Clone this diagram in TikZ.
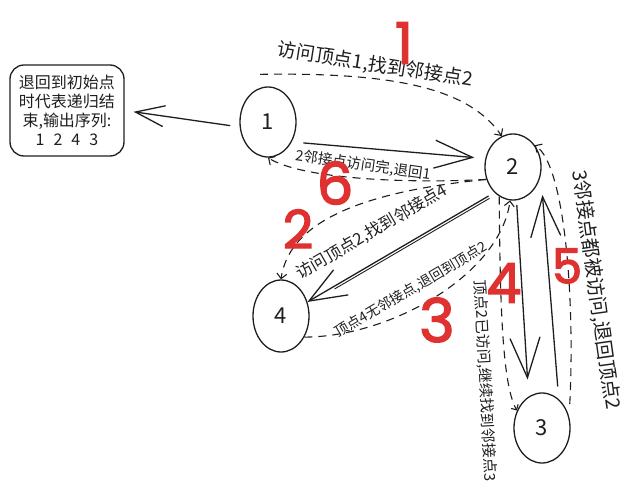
\documentclass[tikz,border=0pt]{standalone}
\usepackage{fontspec}
\newfontfamily\cjk{Noto Sans CJK SC}
\newfontfamily\numfont{Poppins}[FakeBold=2.5]
\usetikzlibrary{arrows.meta,shapes.geometric}
\definecolor{ink}{HTML}{1E1E1E}
\definecolor{redink}{HTML}{E03131}
\begin{document}
\begin{tikzpicture}[x=1pt,y=-1pt,
  vertex/.style={ellipse, draw=ink, line width=1.3pt, minimum width=56pt, minimum height=70pt, inner sep=0pt, text=ink, font=\cjk\fontsize{22}{22}\selectfont},
  lbl/.style={text=ink, inner sep=0pt},
  bignum/.style={text=redink, inner sep=0pt},
  solidarr/.style={draw=ink, line width=1.3pt, line cap=round, -{Straight Barb[length=38pt,width=28pt,line width=1.3pt]}},
  dasharr/.style={draw=ink, line width=1.1pt, dash pattern=on 8pt off 6pt, -{Straight Barb[length=5pt,width=10pt,line width=1.1pt]}}
]
\useasboundingbox (0,0) rectangle (635,495);

% vertices
\node[vertex] (n1) at (268,122) {1};
\node[vertex, minimum height=66pt] (n2) at (513,167) {2};
\node[vertex, minimum height=72pt] (n4) at (281,316) {4};
\node[vertex] (n3) at (542,428) {3};

% result box
\node[draw=ink, line width=1.3pt, rounded corners=14pt, minimum width=114pt, minimum height=91pt, align=center, inner sep=0pt, text=ink, font=\cjk\fontsize{16}{19}\selectfont] (box) at (67,110.5)
  {退回到初始点\\时代表递归结\\束,输出序列:\\1\hspace{9pt}2\hspace{9pt}4\hspace{9pt}3};

\draw[solidarr, -{Straight Barb[length=29pt,width=21pt,line width=1.3pt]}, shorten <=10pt, shorten >=9pt] (n1.190) -- (box.east);

% step 1
\draw[dasharr] ([shift={(-8,-12)}]n1.north) .. controls (400,72) and (470,90) .. (n2.110);
\node[lbl, rotate=-9, font=\cjk\fontsize{19}{19}\selectfont] (t1) at (375,65) {访问顶点1,找到邻接点2};
\node[bignum, font=\numfont\fontsize{57}{57}\selectfont] (r1) at (404,43) {1};

% 1 -> 2 solid
\draw[solidarr, shorten <=12pt, shorten >=11pt] (n1.320) -- (n2.163);

% step 6: back to 1
\draw[dasharr] (n2.205) .. controls (400,184) and (300,178) .. (n1.south);
\node[lbl, rotate=-8, font=\cjk\fontsize{14.5}{14.5}\selectfont] (t2) at (363,165) {2邻接点访问完,退回1};
\node[bignum, font=\numfont\fontsize{58}{58}\selectfont] (r6) at (335,183) {6};

% step 2: 2 -> 4
\draw[dasharr] (n2.205) .. controls (380,190) and (290,215) .. (n4.north);
\node[lbl, rotate=30, font=\cjk\fontsize{16.5}{16.5}\selectfont] (t3) at (372,232) {访问顶点2,找到邻接点4};
\node[bignum, font=\numfont\fontsize{53}{53}\selectfont] (r2) at (298,229) {2};

\draw[solidarr, -{Straight Barb[length=37pt,width=29pt,line width=1.3pt]}, shorten <=7pt] (n2.234) -- (n4.28);
\draw[draw=ink, line width=0.9pt, shorten <=7pt, shorten >=30pt, transform canvas={shift={(1.2pt,-2.2pt)}}] (n2.234) -- (n4.28);

% step 3: 4 -> 2
\draw[dasharr] (n4.318) .. controls (390,337) and (500,275) .. (n2.265);
\node[lbl, rotate=30.5, font=\cjk\fontsize{14}{14}\selectfont] (t4) at (411,290) {顶点4无邻接点,退回到顶点2};
\node[bignum, font=\numfont\fontsize{60}{60}\selectfont] (r3) at (437,320) {3};

% step 4: 2 -> 3
\draw[dasharr, -{Straight Barb[length=4pt,width=8pt,line width=1.1pt]}] (n2.245) .. controls (500,300) and (502,385) .. (n3.145);
\node[lbl, rotate=-87, font=\cjk\fontsize{15}{15}\selectfont] (t5) at (485,381) {顶点2已访问,继续找到邻接点3};
\node[bignum, font=\numfont\fontsize{55}{55}\selectfont] (r4) at (504,283) {4};

\draw[solidarr, -{Straight Barb[length=40pt,width=30pt,line width=1.3pt]}, shorten <=5pt, shorten >=17pt] (n2.276) -- (n3.113);
\draw[solidarr, -{Straight Barb[length=40pt,width=30pt,line width=1.3pt]}, shorten <=13pt, shorten >=20pt] (n3.60) -- (n2.344);

% step 5: 3 -> 2
\draw[dasharr] ([shift={(4,-4)}]n3.40) .. controls (575,300) and (565,165) .. (n2.45);
\node[lbl, rotate=-82, font=\cjk\fontsize{19.5}{19.5}\selectfont] (t6) at (596,290) {3邻接点都被访问,退回顶点2};
\node[bignum, font=\numfont\fontsize{48}{48}\selectfont] (r5) at (567,266) {5};
\end{tikzpicture}
\end{document}
